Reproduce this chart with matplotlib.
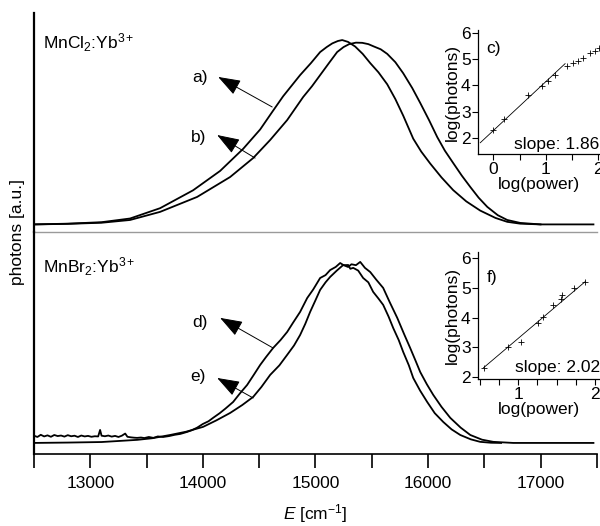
import matplotlib
matplotlib.use("Agg")
import matplotlib.pyplot as plt
from matplotlib.ticker import MultipleLocator, FuncFormatter

plt.rcParams['font.family'] = ['Liberation Sans', 'DejaVu Sans']
plt.rcParams['mathtext.fontset'] = 'custom'
plt.rcParams['mathtext.rm'] = 'Liberation Sans'
plt.rcParams['mathtext.it'] = 'Liberation Sans:italic'

# -------------------------
# DATA
# -------------------------
# MnCl2:Yb3+  spectra a) and b)
e_a = [12500, 12800, 13100, 13353, 13620, 13913, 14153, 14358, 14509, 14616,
       14713, 14864, 14960, 15042, 15100, 15150, 15200, 15238, 15290, 15353,
       15420, 15487, 15560, 15638, 15710, 15780, 15869, 15940, 16020, 16120,
       16224, 16340, 16464, 16600, 16704, 16820, 17000]
v_a = [0.0, 0.004, 0.012, 0.032, 0.088, 0.185, 0.29, 0.41, 0.515, 0.61,
       0.695, 0.81, 0.875, 0.935, 0.962, 0.982, 0.995, 1.0, 0.99, 0.965,
       0.925, 0.875, 0.825, 0.76, 0.68, 0.59, 0.465, 0.395, 0.33, 0.255,
       0.186, 0.125, 0.075, 0.035, 0.014, 0.004, 0.0]

e_b = [12500, 12800, 13100, 13353, 13620, 13949, 14242, 14447, 14598, 14749,
       14891, 14970, 15042, 15120, 15193, 15250, 15300, 15360, 15416, 15470,
       15520, 15580, 15638, 15710, 15780, 15860, 15931, 16010, 16082, 16150,
       16224, 16300, 16376, 16450, 16527, 16620, 16704, 16820, 17000, 17470]
v_b = [0.0, 0.003, 0.009, 0.024, 0.068, 0.149, 0.257, 0.36, 0.458, 0.566,
       0.691, 0.75, 0.81, 0.875, 0.935, 0.962, 0.978, 0.986, 0.985, 0.978,
       0.965, 0.95, 0.925, 0.88, 0.82, 0.74, 0.659, 0.565, 0.474, 0.40,
       0.333, 0.265, 0.203, 0.145, 0.095, 0.05, 0.024, 0.008, 0.0, 0.0]

# MnBr2:Yb3+  spectra d) and e)
e_d = [12500, 12530, 12560, 12590, 12620, 12650, 12680, 12710, 12740, 12770,
       12800, 12830, 12860, 12890, 12920, 12950, 12980, 13010, 13040, 13070,
       13087, 13100, 13130, 13160, 13190, 13220, 13250, 13280, 13310, 13330,
       13360, 13390, 13416, 13450, 13480, 13520, 13560, 13600, 13647, 13700,
       13750, 13800, 13860, 13900, 13950, 14000, 14050, 14091, 14150, 14200,
       14269, 14330, 14393, 14450, 14509, 14560, 14624, 14690, 14749, 14800,
       14864, 14927, 14980, 15042, 15090, 15131, 15180, 15220, 15250, 15291,
       15310, 15336, 15380, 15424, 15470, 15513, 15560, 15602, 15650, 15691,
       15740, 15780, 15830, 15869, 15930, 15993, 16060, 16136, 16210, 16287,
       16380, 16464, 16560, 16650]
v_d = [0.040, 0.033, 0.045, 0.036, 0.042, 0.034, 0.044, 0.038, 0.041, 0.035,
       0.043, 0.037, 0.040, 0.033, 0.041, 0.036, 0.039, 0.034, 0.037, 0.036,
       0.072, 0.040, 0.037, 0.041, 0.035, 0.039, 0.033, 0.040, 0.052, 0.034,
       0.031, 0.029, 0.028, 0.030, 0.027, 0.033, 0.028, 0.036, 0.033, 0.038,
       0.045, 0.050, 0.061, 0.070, 0.085, 0.105, 0.120, 0.139, 0.165, 0.190,
       0.227, 0.275, 0.321, 0.375, 0.432, 0.475, 0.526, 0.570, 0.615, 0.665,
       0.726, 0.803, 0.850, 0.914, 0.930, 0.958, 0.975, 0.997, 0.985, 0.986,
       0.965, 0.970, 0.955, 0.914, 0.890, 0.837, 0.800, 0.765, 0.700, 0.637,
       0.570, 0.504, 0.430, 0.360, 0.290, 0.227, 0.165, 0.116, 0.075, 0.044,
       0.020, 0.006, 0.001, 0.0]

e_e = [12500, 12800, 13100, 13416, 13550, 13709, 13850, 14002, 14120, 14242,
       14350, 14447, 14520, 14598, 14680, 14749, 14810, 14864, 14910, 14953,
       15000, 15042, 15090, 15131, 15190, 15247, 15290, 15320, 15360, 15398,
       15440, 15487, 15540, 15602, 15660, 15727, 15790, 15842, 15890, 15931,
       15990, 16047, 16120, 16198, 16290, 16376, 16480, 16580, 16758, 17470]
v_e = [0.0, 0.002, 0.005, 0.017, 0.026, 0.044, 0.062, 0.089, 0.125, 0.166,
       0.21, 0.255, 0.31, 0.377, 0.43, 0.488, 0.54, 0.598, 0.66, 0.726,
       0.79, 0.848, 0.89, 0.92, 0.955, 0.986, 0.975, 0.99, 0.985, 1.003,
       0.97, 0.947, 0.905, 0.859, 0.78, 0.693, 0.60, 0.526, 0.455, 0.393,
       0.325, 0.266, 0.20, 0.139, 0.085, 0.044, 0.018, 0.006, 0.0, 0.0]

# inset c) power dependence, MnCl2
pc_x = [0.0, 0.2, 0.67, 0.93, 1.05, 1.18, 1.40, 1.53, 1.62, 1.72, 1.85, 1.94, 2.02]
pc_y = [2.30, 2.71, 3.64, 3.99, 4.17, 4.40, 4.74, 4.87, 4.94, 5.04, 5.23, 5.33, 5.42]
fit_c_x = [-0.25, 1.37]
fit_c_y = [1.82, 4.83]

# inset f) power dependence, MnBr2
pf_x = [0.55, 0.87, 1.03, 1.26, 1.32, 1.45, 1.55, 1.57, 1.72, 1.87]
pf_y = [2.31, 3.02, 3.17, 3.81, 4.03, 4.44, 4.64, 4.76, 4.99, 5.21]
fit_f_x = [0.55, 1.87]
fit_f_y = [2.31, 5.21]

# -------------------------
# FIGURE SETUP
# -------------------------
fig = plt.figure(figsize=(6.0, 5.26), dpi=100)
ax_top = fig.add_axes([0.0567, 0.559, 0.938, 0.416])
ax_bot = fig.add_axes([0.0567, 0.137, 0.938, 0.422])

fs = 12.5
lw = 1.3

for ax in (ax_top, ax_bot):
    ax.set_xlim(12500, 17500)
    ax.spines['right'].set_visible(False)
    ax.spines['top'].set_visible(False)
    ax.spines['left'].set_linewidth(1.6)
    ax.set_yticks([])
    ax.set_facecolor('none')

ax_top.set_ylim(-0.041, 1.146)
ax_bot.set_ylim(-0.061, 1.169)

ax_top.spines['bottom'].set_color('#9a9a9a')
ax_top.spines['bottom'].set_linewidth(1.0)
ax_top.tick_params(axis='x', which='both', bottom=False, labelbottom=False)

ax_bot.spines['bottom'].set_linewidth(1.2)
ax_bot.xaxis.set_major_locator(MultipleLocator(500))
ax_bot.xaxis.set_major_formatter(
    FuncFormatter(lambda v, p: f"{int(v)}" if v % 1000 == 0 and 12500 < v < 17500 else ""))
ax_bot.tick_params(axis='x', direction='out', length=10, width=1.2, labelsize=fs, pad=6)
ax_bot.set_xlabel(r"$E$ [cm$^{\mathregular{-1}}$]", fontsize=fs, labelpad=8)

fig.text(0.03, 0.559, "photons [a.u.]", rotation=90, ha='center', va='center', fontsize=fs)

# spectra
ax_top.plot(e_a, v_a, color='black', lw=lw)
ax_top.plot(e_b, v_b, color='black', lw=lw)
ax_bot.plot(e_d, v_d, color='black', lw=lw)
ax_bot.plot(e_e, v_e, color='black', lw=lw)

ax_top.text(0.016, 0.863, r"MnCl$_2$:Yb$^{3+}$", transform=ax_top.transAxes,
            fontsize=fs, va='center', ha='left')
ax_bot.text(0.016, 0.842, r"MnBr$_2$:Yb$^{3+}$", transform=ax_bot.transAxes,
            fontsize=fs, va='center', ha='left')

arrow = dict(arrowstyle='-|>,head_length=0.7,head_width=0.25', mutation_scale=20,
             lw=0.7, color='black', shrinkA=0, shrinkB=0)

# labelled arrows: head, tail, label
ax_top.annotate('', xy=(14136, 0.80), xytext=(14616, 0.637), arrowprops=arrow)
ax_top.text(13975, 0.795, 'a)', fontsize=fs, ha='center', va='center')
ax_top.annotate('', xy=(14127, 0.485), xytext=(14464, 0.36), arrowprops=arrow)
ax_top.text(13960, 0.47, 'b)', fontsize=fs, ha='center', va='center')
ax_bot.annotate('', xy=(14153, 0.693), xytext=(14624, 0.526), arrowprops=arrow)
ax_bot.text(13975, 0.67, 'd)', fontsize=fs, ha='center', va='center')
ax_bot.annotate('', xy=(14127, 0.36), xytext=(14447, 0.249), arrowprops=arrow)
ax_bot.text(13960, 0.366, 'e)', fontsize=fs, ha='center', va='center')

# -------------------------
# INSETS
# -------------------------
in_c = fig.add_axes([0.797, 0.7072, 0.2033, 0.2357])
in_f = fig.add_axes([0.797, 0.2795, 0.2033, 0.2414])

in_c.set_xlim(-0.29, 2.04)
in_c.set_ylim(1.39, 6.11)
in_c.xaxis.set_major_locator(MultipleLocator(1))
in_c.xaxis.set_minor_locator(MultipleLocator(0.5))

in_f.set_xlim(0.48, 2.065)
in_f.set_ylim(1.93, 6.21)
in_f.xaxis.set_major_locator(MultipleLocator(1))
in_f.xaxis.set_minor_locator(MultipleLocator(0.25))

for ax in (in_c, in_f):
    ax.set_facecolor('none')
    ax.spines['right'].set_visible(False)
    ax.spines['top'].set_visible(False)
    ax.spines['left'].set_linewidth(0.9)
    ax.spines['bottom'].set_linewidth(0.9)
    ax.yaxis.set_major_locator(MultipleLocator(1))
    ax.tick_params(which='both', direction='out', length=4, width=0.8,
                   labelsize=fs, pad=1.5)
    ax.set_xlabel("log(power)", fontsize=fs, labelpad=0)
    ax.set_ylabel("log(photons)", fontsize=fs, labelpad=1)

in_c.plot(fit_c_x, fit_c_y, color='black', lw=0.6)
in_c.plot(pc_x, pc_y, ls='none', marker='+', ms=4, mew=0.6, color='black')
in_c.text(0.07, 0.85, 'c)', transform=in_c.transAxes, fontsize=fs, va='center')
in_c.text(0.99, 0.08, 'slope: 1.86', transform=in_c.transAxes, fontsize=fs,
          ha='right', va='center')

in_f.plot(fit_f_x, fit_f_y, color='black', lw=0.6)
in_f.plot(pf_x, pf_y, ls='none', marker='+', ms=4, mew=0.6, color='black')
in_f.text(0.07, 0.80, 'f)', transform=in_f.transAxes, fontsize=fs, va='center')
in_f.text(1.0, 0.09, 'slope: 2.02', transform=in_f.transAxes, fontsize=fs,
          ha='right', va='center')

fig.savefig("out.png", dpi=100)
